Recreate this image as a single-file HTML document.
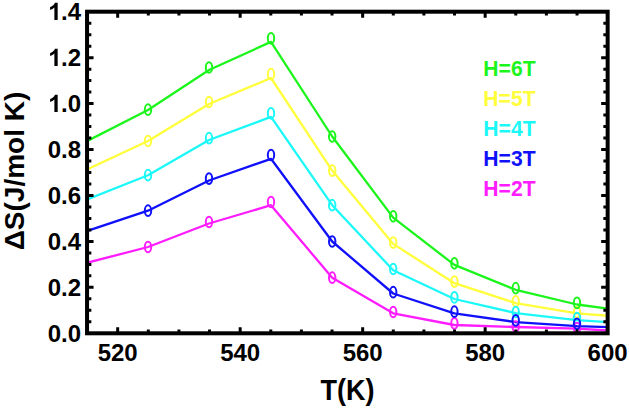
<!DOCTYPE html><html><head><meta charset="utf-8"><style>html,body{margin:0;padding:0;background:#fff;}svg{display:block;}text{font-family:"Liberation Sans",sans-serif;font-weight:bold;}</style></head><body>
<svg width="629" height="408" viewBox="0 0 629 408">
<rect width="629" height="408" fill="#fff"/>
<defs><clipPath id="cp"><rect x="87.05" y="11.7" width="520.6" height="321.6"/></clipPath></defs>
<g clip-path="url(#cp)" fill="none">
<polyline points="80.0,144.7 148.0,110.0 209.0,70.0 271.0,41.9 332.2,136.5 393.2,217.6 454.4,264.9 515.7,289.8 577.0,304.5 615.0,309.5" stroke="#1cf51c" stroke-width="2.3" stroke-linejoin="round"/>
<polyline points="80.0,172.8 148.0,141.0 209.0,104.0 271.0,78.0 332.2,170.6 393.2,243.9 454.4,283.2 515.7,303.1 577.0,313.3 615.0,316.3" stroke="#ffff3c" stroke-width="2.3" stroke-linejoin="round"/>
<polyline points="80.0,202.3 148.0,175.2 209.0,140.0 271.0,116.8 332.2,205.2 393.2,270.3 454.4,299.0 515.7,313.1 577.0,320.1 615.0,322.6" stroke="#1cf8f8" stroke-width="2.3" stroke-linejoin="round"/>
<polyline points="80.0,264.6 148.0,247.0 209.0,223.5 271.0,205.2 332.2,277.7 393.2,313.3 454.4,325.0 515.7,327.0 577.0,328.6 615.0,330.9" stroke="#ff1cff" stroke-width="2.3" stroke-linejoin="round"/>
<polyline points="80.0,233.3 148.0,210.7 209.0,180.5 271.0,158.8 332.2,241.5 393.2,293.5 454.4,313.3 515.7,322.1 577.0,326.1 615.0,327.3" stroke="#1010fa" stroke-width="2.3" stroke-linejoin="round"/>
<ellipse cx="148" cy="141" rx="3.2" ry="5.35" stroke="#ffff3c" stroke-width="2.0"/>
<ellipse cx="209" cy="102" rx="3.2" ry="5.35" stroke="#ffff3c" stroke-width="2.0"/>
<ellipse cx="271" cy="74.2" rx="3.2" ry="5.35" stroke="#ffff3c" stroke-width="2.0"/>
<ellipse cx="332.2" cy="170.6" rx="3.2" ry="5.35" stroke="#ffff3c" stroke-width="2.0"/>
<ellipse cx="393.2" cy="242.6" rx="3.2" ry="5.35" stroke="#ffff3c" stroke-width="2.0"/>
<ellipse cx="454.4" cy="281.6" rx="3.2" ry="5.35" stroke="#ffff3c" stroke-width="2.0"/>
<ellipse cx="515.7" cy="301.3" rx="3.2" ry="5.35" stroke="#ffff3c" stroke-width="2.0"/>
<ellipse cx="577" cy="312.3" rx="3.2" ry="5.35" stroke="#ffff3c" stroke-width="2.0"/>
<ellipse cx="148" cy="109.7" rx="3.2" ry="5.35" stroke="#1cf51c" stroke-width="2.0"/>
<ellipse cx="209" cy="67.5" rx="3.2" ry="5.35" stroke="#1cf51c" stroke-width="2.0"/>
<ellipse cx="271" cy="38.3" rx="3.2" ry="5.35" stroke="#1cf51c" stroke-width="2.0"/>
<ellipse cx="332.2" cy="136.5" rx="3.2" ry="5.35" stroke="#1cf51c" stroke-width="2.0"/>
<ellipse cx="393.2" cy="216.3" rx="3.2" ry="5.35" stroke="#1cf51c" stroke-width="2.0"/>
<ellipse cx="454.4" cy="263.3" rx="3.2" ry="5.35" stroke="#1cf51c" stroke-width="2.0"/>
<ellipse cx="515.7" cy="288.2" rx="3.2" ry="5.35" stroke="#1cf51c" stroke-width="2.0"/>
<ellipse cx="577" cy="302.9" rx="3.2" ry="5.35" stroke="#1cf51c" stroke-width="2.0"/>
<ellipse cx="148" cy="175.2" rx="3.2" ry="5.35" stroke="#1cf8f8" stroke-width="2.0"/>
<ellipse cx="209" cy="138.2" rx="3.2" ry="5.35" stroke="#1cf8f8" stroke-width="2.0"/>
<ellipse cx="271" cy="113.3" rx="3.2" ry="5.35" stroke="#1cf8f8" stroke-width="2.0"/>
<ellipse cx="332.2" cy="205.2" rx="3.2" ry="5.35" stroke="#1cf8f8" stroke-width="2.0"/>
<ellipse cx="393.2" cy="269" rx="3.2" ry="5.35" stroke="#1cf8f8" stroke-width="2.0"/>
<ellipse cx="454.4" cy="297.4" rx="3.2" ry="5.35" stroke="#1cf8f8" stroke-width="2.0"/>
<ellipse cx="515.7" cy="312" rx="3.2" ry="5.35" stroke="#1cf8f8" stroke-width="2.0"/>
<ellipse cx="577" cy="318" rx="3.2" ry="5.35" stroke="#1cf8f8" stroke-width="2.0"/>
<ellipse cx="148" cy="247" rx="3.2" ry="5.35" stroke="#ff1cff" stroke-width="2.0"/>
<ellipse cx="209" cy="222" rx="3.2" ry="5.35" stroke="#ff1cff" stroke-width="2.0"/>
<ellipse cx="271" cy="202" rx="3.2" ry="5.35" stroke="#ff1cff" stroke-width="2.0"/>
<ellipse cx="332.2" cy="277.7" rx="3.2" ry="5.35" stroke="#ff1cff" stroke-width="2.0"/>
<ellipse cx="393.2" cy="312" rx="3.2" ry="5.35" stroke="#ff1cff" stroke-width="2.0"/>
<ellipse cx="454.4" cy="323.4" rx="3.2" ry="5.35" stroke="#ff1cff" stroke-width="2.0"/>
<ellipse cx="515.7" cy="326.5" rx="3.2" ry="5.35" stroke="#ff1cff" stroke-width="2.0"/>
<ellipse cx="577" cy="328" rx="3.2" ry="5.35" stroke="#ff1cff" stroke-width="2.0"/>
<ellipse cx="148" cy="210.7" rx="3.2" ry="5.35" stroke="#1010fa" stroke-width="2.0"/>
<ellipse cx="209" cy="178.6" rx="3.2" ry="5.35" stroke="#1010fa" stroke-width="2.0"/>
<ellipse cx="271" cy="155" rx="3.2" ry="5.35" stroke="#1010fa" stroke-width="2.0"/>
<ellipse cx="332.2" cy="241.5" rx="3.2" ry="5.35" stroke="#1010fa" stroke-width="2.0"/>
<ellipse cx="393.2" cy="292.2" rx="3.2" ry="5.35" stroke="#1010fa" stroke-width="2.0"/>
<ellipse cx="454.4" cy="311.7" rx="3.2" ry="5.35" stroke="#1010fa" stroke-width="2.0"/>
<ellipse cx="515.7" cy="320.4" rx="3.2" ry="5.35" stroke="#1010fa" stroke-width="2.0"/>
<ellipse cx="577" cy="323.8" rx="3.2" ry="5.35" stroke="#1010fa" stroke-width="2.0"/>
</g>
<path d="M87.05 321.81h4.30 M607.65 321.81h-4.30 M87.05 310.33h4.30 M607.65 310.33h-4.30 M87.05 298.84h4.30 M607.65 298.84h-4.30 M87.05 287.36h6.50 M607.65 287.36h-6.50 M87.05 275.87h4.30 M607.65 275.87h-4.30 M87.05 264.39h4.30 M607.65 264.39h-4.30 M87.05 252.90h4.30 M607.65 252.90h-4.30 M87.05 241.41h6.50 M607.65 241.41h-6.50 M87.05 229.93h4.30 M607.65 229.93h-4.30 M87.05 218.44h4.30 M607.65 218.44h-4.30 M87.05 206.96h4.30 M607.65 206.96h-4.30 M87.05 195.47h6.50 M607.65 195.47h-6.50 M87.05 183.99h4.30 M607.65 183.99h-4.30 M87.05 172.50h4.30 M607.65 172.50h-4.30 M87.05 161.01h4.30 M607.65 161.01h-4.30 M87.05 149.53h6.50 M607.65 149.53h-6.50 M87.05 138.04h4.30 M607.65 138.04h-4.30 M87.05 126.56h4.30 M607.65 126.56h-4.30 M87.05 115.07h4.30 M607.65 115.07h-4.30 M87.05 103.59h6.50 M607.65 103.59h-6.50 M87.05 92.10h4.30 M607.65 92.10h-4.30 M87.05 80.61h4.30 M607.65 80.61h-4.30 M87.05 69.13h4.30 M607.65 69.13h-4.30 M87.05 57.64h6.50 M607.65 57.64h-6.50 M87.05 46.16h4.30 M607.65 46.16h-4.30 M87.05 34.67h4.30 M607.65 34.67h-4.30 M87.05 23.19h4.30 M607.65 23.19h-4.30 M117.67 333.3v-6.00 M117.67 11.7v6.00 M148.30 333.3v-3.80 M148.30 11.7v3.80 M178.92 333.3v-3.80 M178.92 11.7v3.80 M209.54 333.3v-3.80 M209.54 11.7v3.80 M240.17 333.3v-6.00 M240.17 11.7v6.00 M270.79 333.3v-3.80 M270.79 11.7v3.80 M301.41 333.3v-3.80 M301.41 11.7v3.80 M332.04 333.3v-3.80 M332.04 11.7v3.80 M362.66 333.3v-6.00 M362.66 11.7v6.00 M393.29 333.3v-3.80 M393.29 11.7v3.80 M423.91 333.3v-3.80 M423.91 11.7v3.80 M454.53 333.3v-3.80 M454.53 11.7v3.80 M485.16 333.3v-6.00 M485.16 11.7v6.00 M515.78 333.3v-3.80 M515.78 11.7v3.80 M546.40 333.3v-3.80 M546.40 11.7v3.80 M577.03 333.3v-3.80 M577.03 11.7v3.80" stroke="#000" stroke-width="3.0" fill="none"/>
<rect x="87.05" y="11.7" width="520.6" height="321.6" fill="none" stroke="#000" stroke-width="4.0"/>
<text x="81" y="341.60" font-size="24" text-anchor="end">0.0</text>
<text x="81" y="295.66" font-size="24" text-anchor="end">0.2</text>
<text x="81" y="249.71" font-size="24" text-anchor="end">0.4</text>
<text x="81" y="203.77" font-size="24" text-anchor="end">0.6</text>
<text x="81" y="157.83" font-size="24" text-anchor="end">0.8</text>
<text x="81" y="111.89" font-size="24" text-anchor="end">.0</text>
<path transform="translate(47.64,111.89) scale(0.011719,-0.011719)" d="M856 0H575V1059Q421 915 212 846V1101Q322 1137 451 1237.5Q580 1338 628 1472H856Z"/>
<text x="81" y="65.94" font-size="24" text-anchor="end">.2</text>
<path transform="translate(47.64,65.94) scale(0.011719,-0.011719)" d="M856 0H575V1059Q421 915 212 846V1101Q322 1137 451 1237.5Q580 1338 628 1472H856Z"/>
<text x="81" y="20.00" font-size="24" text-anchor="end">.4</text>
<path transform="translate(47.64,20.00) scale(0.011719,-0.011719)" d="M856 0H575V1059Q421 915 212 846V1101Q322 1137 451 1237.5Q580 1338 628 1472H856Z"/>
<text x="117.7" y="360.6" font-size="24" text-anchor="middle">520</text>
<text x="240.2" y="360.6" font-size="24" text-anchor="middle">540</text>
<text x="362.7" y="360.6" font-size="24" text-anchor="middle">560</text>
<text x="485.2" y="360.6" font-size="24" text-anchor="middle">580</text>
<text x="607.6" y="360.6" font-size="24" text-anchor="middle">600</text>
<text x="347.4" y="400" font-size="29" text-anchor="middle" textLength="54" lengthAdjust="spacingAndGlyphs">T(K)</text>
<text transform="translate(24,171) rotate(-90)" x="0" y="0" font-size="28" text-anchor="middle">ΔS(J/mol K)</text>
<text x="483.3" y="75.7" font-size="22" fill="#1cf51c" textLength="52.3" lengthAdjust="spacingAndGlyphs">H=6T</text>
<text x="483.3" y="105.7" font-size="22" fill="#ffff3c" textLength="52.3" lengthAdjust="spacingAndGlyphs">H=5T</text>
<text x="483.3" y="135.7" font-size="22" fill="#1cf8f8" textLength="52.3" lengthAdjust="spacingAndGlyphs">H=4T</text>
<text x="483.3" y="165.7" font-size="22" fill="#1010fa" textLength="52.3" lengthAdjust="spacingAndGlyphs">H=3T</text>
<text x="483.3" y="195.7" font-size="22" fill="#ff1cff" textLength="52.3" lengthAdjust="spacingAndGlyphs">H=2T</text>
</svg></body></html>
